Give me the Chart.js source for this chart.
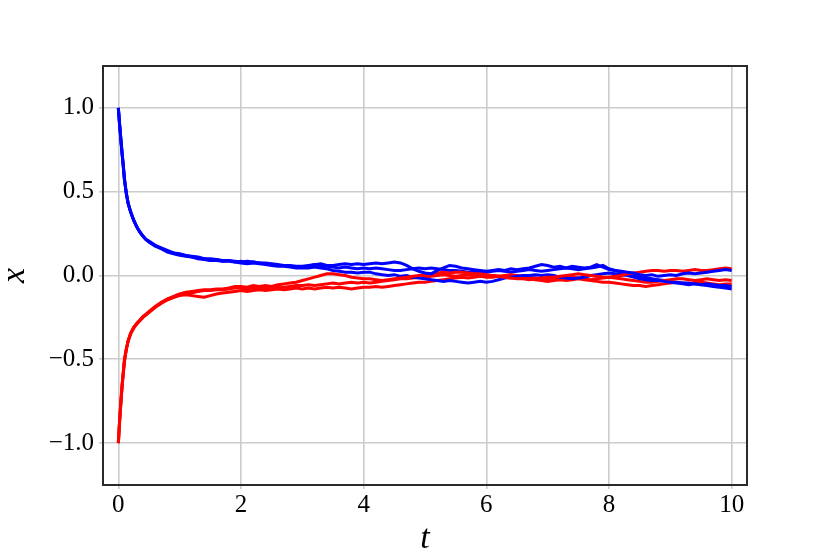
<!DOCTYPE html>
<html>
<head>
<meta charset="utf-8">
<script src="https://cdn.jsdelivr.net/npm/chart.js@4/dist/chart.umd.min.js"></script>
<style>
html,body{margin:0;padding:0;background:#fff;}
#wrap{width:830px;height:554px;}
</style>
</head>
<body>
<div id="wrap"><canvas id="c" width="830" height="554"></canvas></div>
<script>
// time grid
const tValues = [0,0.02,0.04,0.06,0.08,0.1,0.13,0.16,0.2,0.25,0.3,0.35,0.4,0.45,0.5,0.6,0.7,0.8,0.9,
1.0,1.1,1.2,1.3,1.4,1.5,1.6,1.7,1.8,1.9,
2.0,2.1,2.2,2.3,2.4,2.5,2.6,2.7,2.8,2.9,
3.0,3.1,3.2,3.3,3.4,3.5,3.6,3.7,3.8,3.9,
4.0,4.1,4.2,4.3,4.4,4.5,4.6,4.7,4.8,4.9,
5.0,5.1,5.2,5.3,5.4,5.5,5.6,5.7,5.8,5.9,
6.0,6.1,6.2,6.3,6.4,6.5,6.6,6.7,6.8,6.9,
7.0,7.1,7.2,7.3,7.4,7.5,7.6,7.7,7.8,7.9,
8.0,8.1,8.2,8.3,8.4,8.5,8.6,8.7,8.8,8.9,
9.0,9.1,9.2,9.3,9.4,9.5,9.6,9.7,9.8,9.9,10.0];

const blue1 = [1.0,0.90,0.81,0.73,0.65,0.57,0.49,0.43,0.38,0.33,0.29,0.26,0.235,0.215,0.20,0.18,0.16,0.145,0.135,
0.125,0.12,0.11,0.105,0.10,0.09,0.095,0.085,0.09,0.08,
0.085,0.075,0.08,0.075,0.07,0.065,0.06,0.06,0.055,0.05,
0.05,0.055,0.065,0.07,0.06,0.06,0.065,0.07,0.065,0.07,
0.065,0.07,0.075,0.07,0.075,0.08,0.075,0.06,0.04,0.025,
0.015,0.01,0.03,0.045,0.06,0.055,0.045,0.04,0.035,0.03,
0.025,0.03,0.035,0.03,0.04,0.035,0.04,0.045,0.055,0.065,
0.06,0.05,0.055,0.045,0.055,0.05,0.045,0.05,0.065,0.05,
0.035,0.03,0.025,0.02,0.015,0.005,0.0,0.005,-0.005,0.0,
0.005,0.0,0.01,0.015,0.01,0.015,0.02,0.025,0.03,0.035,0.03];

const red1 = [-1.0,-0.88,-0.77,-0.67,-0.59,-0.51,-0.44,-0.39,-0.345,-0.31,-0.285,-0.265,-0.245,-0.23,-0.215,-0.185,-0.16,-0.14,-0.125,
-0.11,-0.10,-0.095,-0.09,-0.085,-0.085,-0.08,-0.08,-0.075,-0.065,
-0.065,-0.07,-0.06,-0.065,-0.06,-0.065,-0.055,-0.05,-0.045,-0.04,
-0.03,-0.02,-0.01,0.0,0.01,0.01,0.005,0.0,-0.01,-0.015,
-0.02,-0.02,-0.025,-0.03,-0.025,-0.02,-0.015,-0.01,-0.005,0.0,
0.005,0.01,0.015,0.02,0.015,0.02,0.02,0.015,0.01,0.01,
0.005,0.0,-0.005,-0.01,-0.015,-0.02,-0.02,-0.025,-0.02,-0.015,
-0.01,-0.01,-0.005,0.0,0.005,0.01,0.005,0.0,-0.005,-0.01,
-0.01,-0.005,0.0,0.01,0.015,0.02,0.025,0.03,0.03,0.025,
0.03,0.03,0.025,0.03,0.035,0.03,0.03,0.035,0.04,0.045,0.04];

const blue2 = [1.0,0.91,0.82,0.74,0.66,0.57,0.49,0.43,0.38,0.33,0.29,0.26,0.235,0.215,0.20,0.175,0.16,0.14,0.13,
0.12,0.115,0.11,0.10,0.095,0.09,0.09,0.085,0.085,0.08,
0.075,0.07,0.075,0.07,0.065,0.06,0.055,0.055,0.05,0.045,
0.045,0.045,0.05,0.045,0.04,0.03,0.025,0.02,0.02,0.015,
0.02,0.02,0.01,0.005,0.0,0.005,-0.005,0.0,-0.01,-0.015,
-0.02,-0.025,-0.03,-0.035,-0.03,-0.035,-0.04,-0.045,-0.04,-0.035,
-0.04,-0.035,-0.025,-0.015,-0.01,-0.005,0.0,0.0,0.005,0.0,
0.005,0.0,-0.01,-0.015,-0.02,-0.015,-0.01,0.0,0.005,0.01,
0.015,0.01,0.005,0.0,-0.01,-0.02,-0.025,-0.03,-0.03,-0.035,
-0.04,-0.045,-0.05,-0.055,-0.05,-0.055,-0.06,-0.065,-0.07,-0.075,-0.08];

const red2 = [-1.0,-0.87,-0.76,-0.66,-0.58,-0.51,-0.44,-0.39,-0.35,-0.315,-0.29,-0.27,-0.25,-0.235,-0.22,-0.19,-0.165,-0.145,-0.13,
-0.115,-0.11,-0.105,-0.095,-0.09,-0.09,-0.085,-0.085,-0.08,-0.075,
-0.075,-0.08,-0.075,-0.07,-0.075,-0.07,-0.065,-0.07,-0.065,-0.06,
-0.06,-0.055,-0.06,-0.055,-0.05,-0.045,-0.05,-0.045,-0.04,-0.045,
-0.04,-0.045,-0.04,-0.035,-0.03,-0.025,-0.02,-0.02,-0.015,-0.01,
-0.01,-0.005,0.0,0.005,0.0,-0.005,0.0,0.005,0.0,-0.005,
-0.01,-0.01,-0.005,0.0,0.005,0.0,-0.005,-0.01,-0.015,-0.02,
-0.02,-0.015,-0.01,-0.005,-0.01,-0.015,-0.02,-0.025,-0.02,-0.015,
-0.01,-0.015,-0.02,-0.025,-0.03,-0.035,-0.04,-0.04,-0.035,-0.03,
-0.025,-0.02,-0.02,-0.025,-0.03,-0.025,-0.02,-0.025,-0.03,-0.025,-0.03];

const blue3 = [1.0,0.90,0.82,0.73,0.66,0.58,0.49,0.43,0.38,0.33,0.29,0.26,0.235,0.215,0.205,0.18,0.165,0.15,0.135,
0.13,0.12,0.115,0.11,0.10,0.10,0.095,0.09,0.09,0.085,
0.08,0.085,0.08,0.075,0.075,0.07,0.065,0.06,0.06,0.055,
0.055,0.06,0.065,0.06,0.055,0.05,0.045,0.05,0.045,0.04,
0.045,0.04,0.045,0.04,0.035,0.03,0.03,0.035,0.04,0.045,
0.04,0.045,0.04,0.035,0.03,0.03,0.025,0.02,0.025,0.02,
0.02,0.025,0.03,0.025,0.02,0.025,0.03,0.035,0.03,0.025,
0.03,0.035,0.04,0.045,0.04,0.035,0.04,0.045,0.05,0.06,
0.04,0.03,0.02,0.01,0.0,-0.01,-0.015,-0.02,-0.025,-0.03,
-0.035,-0.04,-0.045,-0.045,-0.05,-0.055,-0.05,-0.055,-0.06,-0.06,-0.065];

const red3 = [-1.0,-0.87,-0.76,-0.66,-0.58,-0.50,-0.44,-0.39,-0.345,-0.31,-0.29,-0.27,-0.25,-0.235,-0.22,-0.19,-0.165,-0.145,-0.13,
-0.12,-0.115,-0.12,-0.125,-0.13,-0.12,-0.11,-0.105,-0.10,-0.095,
-0.09,-0.095,-0.09,-0.085,-0.09,-0.085,-0.08,-0.085,-0.08,-0.075,
-0.08,-0.075,-0.08,-0.075,-0.07,-0.075,-0.07,-0.075,-0.08,-0.075,
-0.07,-0.07,-0.065,-0.07,-0.065,-0.06,-0.055,-0.05,-0.045,-0.04,
-0.04,-0.035,-0.03,-0.025,-0.02,-0.015,-0.01,-0.015,-0.01,-0.005,
-0.005,0.0,-0.005,-0.01,-0.015,-0.01,-0.015,-0.02,-0.025,-0.03,
-0.035,-0.03,-0.025,-0.03,-0.025,-0.02,-0.025,-0.03,-0.035,-0.04,
-0.04,-0.045,-0.05,-0.055,-0.06,-0.06,-0.065,-0.06,-0.055,-0.05,
-0.045,-0.04,-0.045,-0.05,-0.045,-0.04,-0.045,-0.05,-0.055,-0.05,-0.05];

const xTickValues = [0, 2, 4, 6, 8, 10];
const yTickValues = [-1.0, -0.5, 0.0, 0.5, 1.0];
const xAxisLabel = 't';
const yAxisLabel = 'x';

const seriesList = [
  {name: 'blue1', values: blue1, color: '#0000ff'},
  {name: 'red1', values: red1, color: '#ff0000'},
  {name: 'blue2', values: blue2, color: '#0000ff'},
  {name: 'red2', values: red2, color: '#ff0000'},
  {name: 'blue3', values: blue3, color: '#0000ff'},
  {name: 'red3', values: red3, color: '#ff0000'}
];

const datasets = seriesList.map(s => ({
  label: s.name,
  data: tValues.map((t, i) => ({x: t, y: s.values[i]})),
  borderColor: s.color,
  backgroundColor: s.color,
  borderWidth: 3,
  pointRadius: 0,
  tension: 0,
  fill: false
}));

const frame = {
  id: 'frame',
  afterDatasetsDraw(chart) {
    const {ctx, chartArea: a} = chart;
    ctx.save();
    ctx.strokeStyle = '#2a2a2a';
    ctx.lineWidth = 2;
    ctx.strokeRect(a.left, a.top, a.right - a.left, a.bottom - a.top);
    ctx.restore();
  }
};

const fontFam = '"Liberation Serif", "DejaVu Serif", serif';
const fmt = v => {
  const s = Number(v).toFixed(1);
  return s.startsWith('-') ? '\u2212' + s.slice(1) : s;
};

new Chart(document.getElementById('c'), {
  type: 'line',
  data: {datasets},
  options: {
    responsive: false,
    animation: false,
    devicePixelRatio: 1,
    layout: {padding: {left: 0, top: 66, right: 83, bottom: 0}},
    plugins: {legend: {display: false}, tooltip: {enabled: false}},
    scales: {
      x: {
        type: 'linear',
        min: -0.25,
        max: 10.25,
        afterBuildTicks: s => { s.ticks = xTickValues.map(v => ({value: v})); },
        afterFit: s => { s.height = 69; },
        grid: {color: '#cccccc', lineWidth: 1.6, drawTicks: true, tickLength: 4, tickColor: '#cccccc'},
        border: {display: false},
        ticks: {
          color: '#000',
          font: {family: fontFam, size: 25},
          padding: 1,
          maxRotation: 0,
          callback: v => String(v)
        },
        title: {
          display: true,
          text: xAxisLabel,
          color: '#000',
          font: {family: fontFam, size: 34, style: 'italic', lineHeight: 0.9},
          padding: {top: 0, bottom: 0}
        }
      },
      y: {
        type: 'linear',
        min: -1.25,
        max: 1.25,
        afterBuildTicks: s => { s.ticks = yTickValues.map(v => ({value: v})); },
        afterFit: s => { s.width = 103; },
        grid: {color: '#cccccc', lineWidth: 1.6, drawTicks: true, tickLength: 4, tickColor: '#cccccc'},
        border: {display: false},
        ticks: {
          color: '#000',
          font: {family: fontFam, size: 25},
          padding: 5,
          callback: v => fmt(v)
        },
        title: {
          display: true,
          text: yAxisLabel,
          color: '#000',
          font: {family: fontFam, size: 34, style: 'italic', lineHeight: 0.9},
          padding: {top: 0, bottom: 0}
        }
      }
    }
  },
  plugins: [frame]
});
</script>
</body>
</html>
